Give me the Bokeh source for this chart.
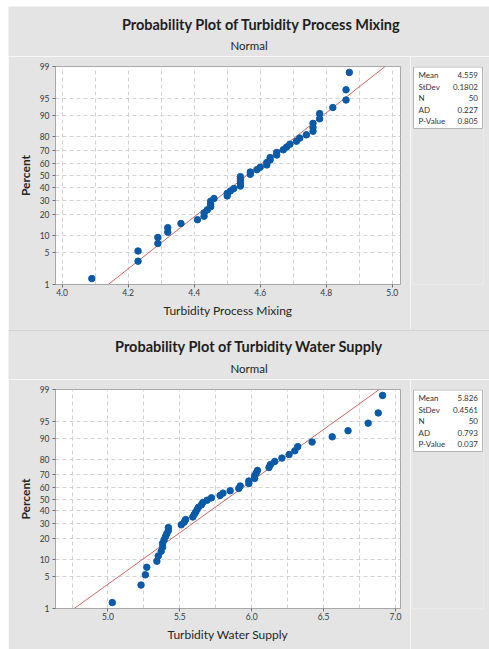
from statistics import NormalDist
from bokeh.plotting import figure
from bokeh.models import Range1d, FixedTicker, Span
from bokeh.layouts import column, row
from bokeh.core.properties import value
from bokeh.embed import file_html
from bokeh.resources import INLINE

# ---- data ----
mixing_values = [4.09, 4.23, 4.23, 4.29, 4.29, 4.32, 4.32, 4.36, 4.41, 4.43,
                 4.43, 4.44, 4.45, 4.45, 4.45, 4.46, 4.50, 4.50, 4.51, 4.52,
                 4.54, 4.54, 4.54, 4.54, 4.54, 4.57, 4.57, 4.59, 4.60, 4.62,
                 4.62, 4.63, 4.63, 4.65, 4.65, 4.67, 4.68, 4.69, 4.71, 4.72,
                 4.74, 4.76, 4.76, 4.76, 4.78, 4.78, 4.82, 4.86, 4.86, 4.87]
supply_values = [5.03, 5.23, 5.26, 5.27, 5.34, 5.35, 5.37, 5.38, 5.38, 5.39,
                 5.40, 5.41, 5.42, 5.42, 5.51, 5.53, 5.54, 5.59, 5.60, 5.61,
                 5.62, 5.63, 5.65, 5.66, 5.69, 5.72, 5.78, 5.80, 5.85, 5.91,
                 5.92, 5.98, 5.98, 6.02, 6.02, 6.03, 6.04, 6.12, 6.13, 6.16,
                 6.21, 6.26, 6.30, 6.32, 6.42, 6.56, 6.67, 6.81, 6.88, 6.91]

mixing_mean, mixing_sd = 4.559, 0.1802
supply_mean, supply_sd = 5.826, 0.4561
stat_names = ["Mean", "StDev", "N", "AD", "P-Value"]
mixing_stats = ["4.559", "0.1802", "50", "0.227", "0.805"]
supply_stats = ["5.826", "0.4561", "50", "0.793", "0.037"]

percent_ticks = [1, 5, 10, 20, 30, 40, 50, 60, 70, 80, 90, 95, 99]
mixing_xticks = [4.0, 4.2, 4.4, 4.6, 4.8, 5.0]
supply_xticks = [5.0, 5.5, 6.0, 6.5, 7.0]
mixing_xgrid = [4.0, 4.1, 4.2, 4.3, 4.4, 4.5, 4.6, 4.7, 4.8, 4.9, 5.0]
supply_xgrid = [4.75, 5.0, 5.25, 5.5, 5.75, 6.0, 6.25, 6.5, 6.75, 7.0]

BG = "#e4e4e4"
FONT = "Lato"
ND = NormalDist()


def blank(width, height, **kw):
    p = figure(width=width, height=height, output_backend="svg",
               toolbar_location=None, border_fill_color=BG,
               background_fill_color=BG, outline_line_color=None, **kw)
    p.axis.visible = False
    p.grid.visible = False
    return p


def title_strip(title, subtitle, tx, ty, sx, sy, top_line):
    p = blank(481, 50, x_range=Range1d(0, 481), y_range=Range1d(0, 50),
              min_border=0)
    p.text(x=[tx], y=[ty], text=[title], text_font=value(FONT),
           text_font_size="14.5px", text_font_style="bold",
           text_color="#1e1e1e", text_align="center", text_baseline="middle")
    p.text(x=[sx], y=[sy], text=[subtitle], text_font=value(FONT),
           text_font_size="11.5px", text_color="#1e1e1e",
           text_align="center", text_baseline="middle")
    if top_line:
        p.add_layout(Span(location=49.5, dimension="width",
                          line_color="#c4c4c4", line_width=1))
    return p


def stats_box(stats, height, fh):
    p = blank(79, height, x_range=Range1d(-1, 70), y_range=Range1d(0, fh),
              min_border_left=2, min_border_right=6, min_border_top=10,
              min_border_bottom=height - 10 - fh)
    p.quad(left=[0], right=[69], top=[fh - 0.5], bottom=[fh - 62],
           fill_color="white", line_color="#b4b4b4", line_width=1)
    ys = [fh - 8.5 - 11.5 * i for i in range(len(stats))]
    p.text(x=[5] * len(stats), y=ys, text=stat_names, text_font=value(FONT),
           text_font_size="8px", text_color="#333333", text_baseline="middle")
    p.text(x=[64.5] * len(stats), y=ys, text=stats, text_font=value(FONT),
           text_font_size="8px", text_color="#333333", text_align="right",
           text_baseline="middle")
    return p


def main_plot(xlabel, values, mean, sd, xticks, xgrid, xr, height, fh):
    n = len(values)
    xs = sorted(values)
    zs = [ND.inv_cdf((i - 0.3) / (n + 0.4)) for i in range(1, n + 1)]
    zlo, zhi = ND.inv_cdf(0.01), ND.inv_cdf(0.99)
    p = figure(width=402, height=height, x_range=Range1d(*xr),
               y_range=Range1d(zlo, zhi), output_backend="svg",
               toolbar_location=None, min_border_left=47, min_border_right=10,
               min_border_top=10, min_border_bottom=height - 10 - fh,
               background_fill_color="white", border_fill_color=BG,
               outline_line_color="#a8a8a8")

    zt = [ND.inv_cdf(v / 100) for v in percent_ticks]
    p.yaxis.ticker = FixedTicker(ticks=zt)
    p.yaxis.major_label_overrides = {z: str(v) for z, v in zip(zt, percent_ticks)}
    p.xaxis.ticker = FixedTicker(ticks=xticks)
    p.xaxis.major_label_overrides = {t: f"{t:.1f}" for t in xticks}
    p.xgrid.ticker = FixedTicker(ticks=xgrid)
    p.ygrid.ticker = FixedTicker(ticks=zt)
    for g in (p.xgrid, p.ygrid):
        g.grid_line_color = "#d2d2d2"
        g.grid_line_dash = "4 3"
        g.grid_line_width = 1
    for ax in (p.xaxis, p.yaxis):
        ax.axis_line_color = "#a8a8a8"
        ax.major_tick_line_color = "#707070"
        ax.major_tick_out = 3
        ax.major_tick_in = 0
        ax.minor_tick_line_color = None
        ax.major_label_text_font = FONT
        ax.major_label_text_font_size = "8.5px"
        ax.major_label_text_color = "#3a3a3a"
        ax.axis_label_text_font = FONT
        ax.axis_label_text_font_size = "12px"
        ax.axis_label_text_font_style = "normal"
        ax.axis_label_text_color = "#262626"
    p.xaxis.axis_label = xlabel
    p.yaxis.axis_label = "Percent"
    p.yaxis.axis_label_text_font_style = "bold"
    p.xaxis.major_label_standoff = 1
    p.yaxis.major_label_standoff = 3
    p.xaxis.axis_label_standoff = 4
    p.yaxis.axis_label_standoff = 4

    zline = [zlo - 0.5, zhi + 0.5]
    p.line([mean + sd * z for z in zline], zline, line_color="#c86a66",
           line_width=1)
    p.scatter(xs, zs, size=6.5, fill_color="#0b5aa8", line_color="#0b5aa8")
    return p


t1 = title_strip("Probability Plot of Turbidity Process Mixing", "Normal",
                 253, 32, 240.5, 11, False)
m1 = main_plot("Turbidity Process Mixing", mixing_values, mixing_mean,
               mixing_sd, mixing_xticks, mixing_xgrid, (3.98, 5.025), 273, 218)
s1 = stats_box(mixing_stats, 273, 218)

t2 = title_strip("Probability Plot of Turbidity Water Supply", "Normal",
                 241, 33.3, 240.5, 11.3, True)
m2 = main_plot("Turbidity Water Supply", supply_values, supply_mean,
               supply_sd, supply_xticks, supply_xgrid, (4.635, 7.035), 270, 219)
s2 = stats_box(supply_stats, 270, 219)

layout = column(t1, row(m1, s1), t2, row(m2, s2), margin=(6, 0, 0, 8))
open("out.html", "w").write(file_html(layout, INLINE))
